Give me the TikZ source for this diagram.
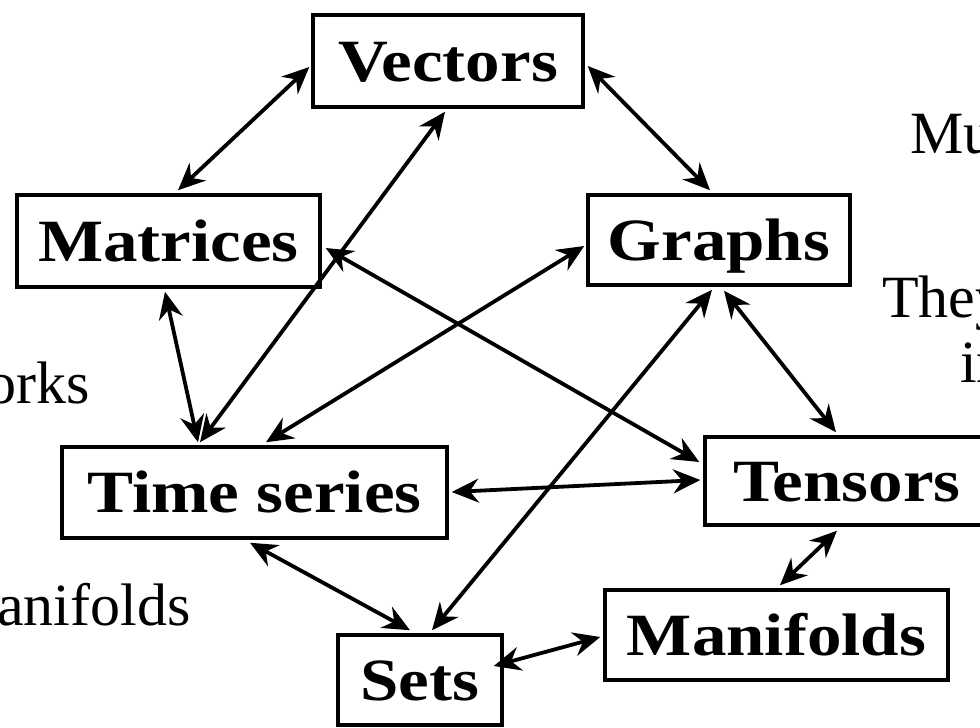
\documentclass[tikz,border=0pt]{standalone}
\usepackage{fontspec}
\setmainfont{Liberation Serif}
\newfontfamily\boxfont{Liberation Serif}[FakeStretch=1.15]
\usetikzlibrary{arrows.meta,calc}

\begin{document}
\begin{tikzpicture}[x=1pt,y=-1pt,
  topic/.style={draw, line width=3.5pt, rectangle, inner sep=0pt,
    font=\boxfont\bfseries\fontsize{60}{72}\selectfont,
    text height=54pt, text depth=14pt},
  link/.style={line width=3.8pt,
    {Stealth[length=27pt,width=24pt,inset=9pt]}-{Stealth[length=27pt,width=24pt,inset=9pt]}},
  side/.style={inner sep=0pt, font=\fontsize{60}{72}\selectfont}
]
\useasboundingbox (0,0) rectangle (980,728);
\clip (0,0) rectangle (980,728);

% topic boxes
\node[topic, minimum width=270pt, minimum height=92pt] (vec) at (448,61) {Vectors};
\node[topic, minimum width=303pt, minimum height=92pt] (mat) at (168.5,241) {Matrices};
\node[topic, minimum width=262pt, minimum height=90pt] (gra) at (719,240) {Graphs};
\node[topic, minimum width=385pt, minimum height=91pt] (tim) at (254.5,492.5) {Time series};
\node[topic, minimum width=284pt, minimum height=88pt] (ten) at (847,481) {Tensors};
\node[topic, minimum width=343pt, minimum height=90pt] (man) at (776.5,635) {Manifolds};
\node[topic, minimum width=164pt, minimum height=90pt] (set) at (420,680) {Sets};

% surrounding text, running off the edges
\node[side, anchor=base west] (mu) at (910,153) {Mu};
\node[side, anchor=base west] (they) at (882,317) {They};
\node[side, anchor=base west] (inw) at (960,382) {in};
\node[side, anchor=base east] (orks) at (90,403) {orks};
\node[side, anchor=base west] (anif) at (-3,625) {anifolds};

% two-way links
\draw[link] ($(vec.west)+(-2,6)$) -- ($(mat.north)+(9.5,-3)$);
\draw[link] ($(vec.south)+(-3,3)$) -- ($(tim.north)+(-54.5,-3)$);
\draw[link] ($(vec.east)+(3,5)$) -- ($(gra.north)+(-9,-3)$);
\draw[link] ($(mat.east)+(4,7)$) -- ($(ten.west)+(-4,-19)$);
\draw[link] ($(mat.south)+(-3.5,3)$) -- ($(tim.north)+(-56.5,-3)$);
\draw[link] ($(gra.west)+(-2,6)$) -- ($(tim.north)+(11.5,-3)$);
\draw[link] ($(gra.south)+(-7,3)$) -- ($(set.north)+(12,-3)$);
\draw[link] ($(gra.south)+(5,4)$) -- ($(ten.north)+(-11,-3)$);
\draw[link] ($(tim.east)+(3,-0.5)$) -- ($(ten.west)+(-3,-1)$);
\draw[link] ($(tim.south)+(-4.5,3)$) -- ($(set.north)+(-10,-3)$);
\draw[link] ($(set.east)+(-10,-14)$) -- ($(man.west)+(-3,2)$);
\draw[link] ($(ten.south)+(-10,4)$) -- ($(man.north)+(3.5,-3)$);
\end{tikzpicture}
\end{document}
